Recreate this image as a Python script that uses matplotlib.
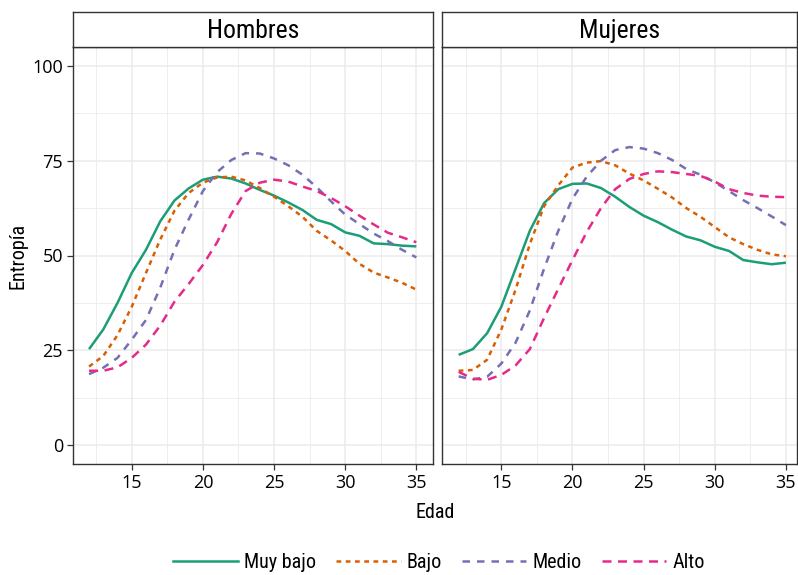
import matplotlib
matplotlib.use("Agg")
import matplotlib.pyplot as plt
from matplotlib.lines import Line2D
from matplotlib.ticker import MultipleLocator
from matplotlib.font_manager import FontProperties

# ---------------- data ----------------
edad = [12, 13, 14, 15, 16, 17, 18, 19, 20, 21, 22, 23,
        24, 25, 26, 27, 28, 29, 30, 31, 32, 33, 34, 35]

niveles = ["Muy bajo", "Bajo", "Medio", "Alto"]
paneles = ["Hombres", "Mujeres"]

hombres_muy_bajo = [25.3, 30.5, 37.5, 45.4, 51.5, 59.0, 64.5, 67.7, 70.0, 70.8, 70.3, 69.0,
                    67.3, 65.8, 64.0, 62.0, 59.4, 58.3, 56.1, 55.2, 53.2, 53.0, 52.6, 52.4]
hombres_bajo = [20.7, 23.5, 29.0, 36.5, 45.4, 54.2, 61.8, 66.5, 69.2, 70.6, 70.8, 69.8,
                67.8, 65.5, 63.0, 60.2, 56.5, 54.0, 51.2, 47.8, 45.5, 44.2, 42.8, 41.0]
hombres_medio = [18.7, 20.4, 23.0, 27.8, 33.0, 41.5, 51.5, 59.5, 67.0, 72.0, 75.2, 77.0,
                 76.9, 75.6, 73.8, 71.3, 68.0, 64.3, 60.8, 58.3, 55.8, 53.8, 51.5, 49.5]
hombres_alto = [19.6, 19.6, 20.5, 23.0, 26.5, 31.5, 37.8, 42.5, 47.5, 53.5, 61.0, 67.0,
                69.2, 70.0, 69.5, 68.2, 67.0, 65.2, 63.0, 60.5, 58.2, 56.0, 54.8, 53.5]

mujeres_muy_bajo = [23.8, 25.3, 29.5, 36.5, 46.5, 56.5, 63.8, 67.5, 68.9, 69.0, 67.8, 65.5,
                    62.8, 60.5, 58.8, 56.8, 55.0, 54.0, 52.3, 51.2, 48.8, 48.2, 47.7, 48.1]
mujeres_bajo = [19.6, 19.8, 22.5, 30.5, 41.0, 53.0, 63.0, 68.5, 73.2, 74.5, 74.9, 73.8,
                71.6, 69.8, 67.6, 65.3, 62.5, 60.2, 57.5, 54.8, 53.0, 51.5, 50.3, 49.8]
mujeres_medio = [18.1, 17.3, 18.0, 21.5, 27.0, 35.5, 46.5, 56.5, 65.0, 70.8, 75.0, 77.8,
                 78.6, 78.2, 77.0, 75.2, 72.8, 71.3, 69.3, 67.0, 64.6, 62.5, 60.3, 58.0]
mujeres_alto = [19.3, 17.5, 17.2, 18.5, 21.0, 25.3, 33.5, 41.2, 48.8, 56.2, 62.5, 67.5,
                70.2, 71.5, 72.2, 72.0, 71.5, 71.0, 69.5, 67.5, 66.5, 65.8, 65.5, 65.4]

datos = {
    "Hombres": [hombres_muy_bajo, hombres_bajo, hombres_medio, hombres_alto],
    "Mujeres": [mujeres_muy_bajo, mujeres_bajo, mujeres_medio, mujeres_alto],
}

x_ticks = [15, 20, 25, 30, 35]
y_ticks = [0, 25, 50, 75, 100]

# ---------------- styles ----------------
colores = ["#1B9E77", "#D95F02", "#7570B3", "#E7298A"]
dashes = [None, (1.9, 1.8), (3.0, 2.8), (3.6, 2.6)]
LW = 1.8
BORDER = "#333333"
GRID = "#EBEBEB"

W, H = 798, 575
fig = plt.figure(figsize=(W / 100, H / 100), dpi=100)

TICK_FP = FontProperties(family="Open Sans", size=13)
COND_FAMILY = "Roboto Condensed"


def rect(x0, y0, x1, y1):
    return [x0 / W, 1 - y1 / H, (x1 - x0) / W, (y1 - y0) / H]


panel_px = {"Hombres": (72.7, 432.7), "Mujeres": (442.3, 797.0)}
ytop, ybot = 47.0, 464.0
strip_top = 12.0
px_per_year = 360.0 / 25.3

for i, nombre in enumerate(paneles):
    x0, x1 = panel_px[nombre]
    ax = fig.add_axes(rect(x0, ytop, x1, ybot))
    xl = 10.85
    xr = xl + (x1 - x0) / px_per_year
    ax.set_xlim(xl, xr)
    ax.set_ylim(-5, 105)
    ax.set_facecolor("white")
    ax.xaxis.set_minor_locator(MultipleLocator(2.5))
    ax.yaxis.set_minor_locator(MultipleLocator(12.5))
    ax.set_xticks(x_ticks)
    ax.set_yticks(y_ticks)
    ax.grid(which="major", color=GRID, lw=1.1, zorder=0)
    ax.grid(which="minor", color=GRID, lw=0.6, zorder=0)
    ax.set_axisbelow(True)
    for s in ax.spines.values():
        s.set_color(BORDER)
        s.set_linewidth(1.0)
    ax.tick_params(which="minor", length=0)
    ax.tick_params(which="major", length=4, width=0.9, color=BORDER, pad=3)
    ax.set_xticklabels([str(t) for t in x_ticks], fontproperties=TICK_FP, color="black")
    if i == 0:
        ax.set_yticklabels([str(t) for t in y_ticks], fontproperties=TICK_FP, color="black")
    else:
        ax.tick_params(axis="y", which="both", left=False, labelleft=False)

    for serie, col, d in zip(datos[nombre], colores, dashes):
        ln, = ax.plot(edad, serie, color=col, lw=LW, solid_capstyle="butt", zorder=3)
        if d is not None:
            ln.set_dashes(d)
            ln.set_dash_capstyle("butt")

    # strip
    sax = fig.add_axes(rect(x0, strip_top, x1, ytop))
    sax.set_xticks([])
    sax.set_yticks([])
    sax.set_facecolor("white")
    for s in sax.spines.values():
        s.set_color(BORDER)
        s.set_linewidth(1.0)
    sax.text(0.5, 0.47, nombre, ha="center", va="center", transform=sax.transAxes,
             fontproperties=FontProperties(family=COND_FAMILY, size=18.5), color="black")

# axis titles
fig.text((72.7 + 797.0) / 2 / W, 1 - 512 / H, "Edad", ha="center", va="center",
         fontproperties=FontProperties(family=COND_FAMILY, size=14.5), color="black")
fig.text(18 / W, 1 - (ytop + ybot) / 2 / H, "Entropía", ha="center", va="center",
         rotation=90, fontproperties=FontProperties(family=COND_FAMILY, size=14.5),
         color="black")

# legend
handles = []
for nivel, col, d in zip(niveles, colores, dashes):
    h = Line2D([], [], color=col, lw=LW)
    if d is not None:
        h.set_dashes(d)
    handles.append(h)
leg = fig.legend(handles, niveles, loc="center", bbox_to_anchor=(439 / W, 1 - 563 / H),
                 ncol=4, frameon=False, handlelength=3.2, handletextpad=0.3,
                 columnspacing=1.0, prop=FontProperties(family=COND_FAMILY, size=14.5))

fig.savefig("out.png", dpi=100, facecolor="white")
